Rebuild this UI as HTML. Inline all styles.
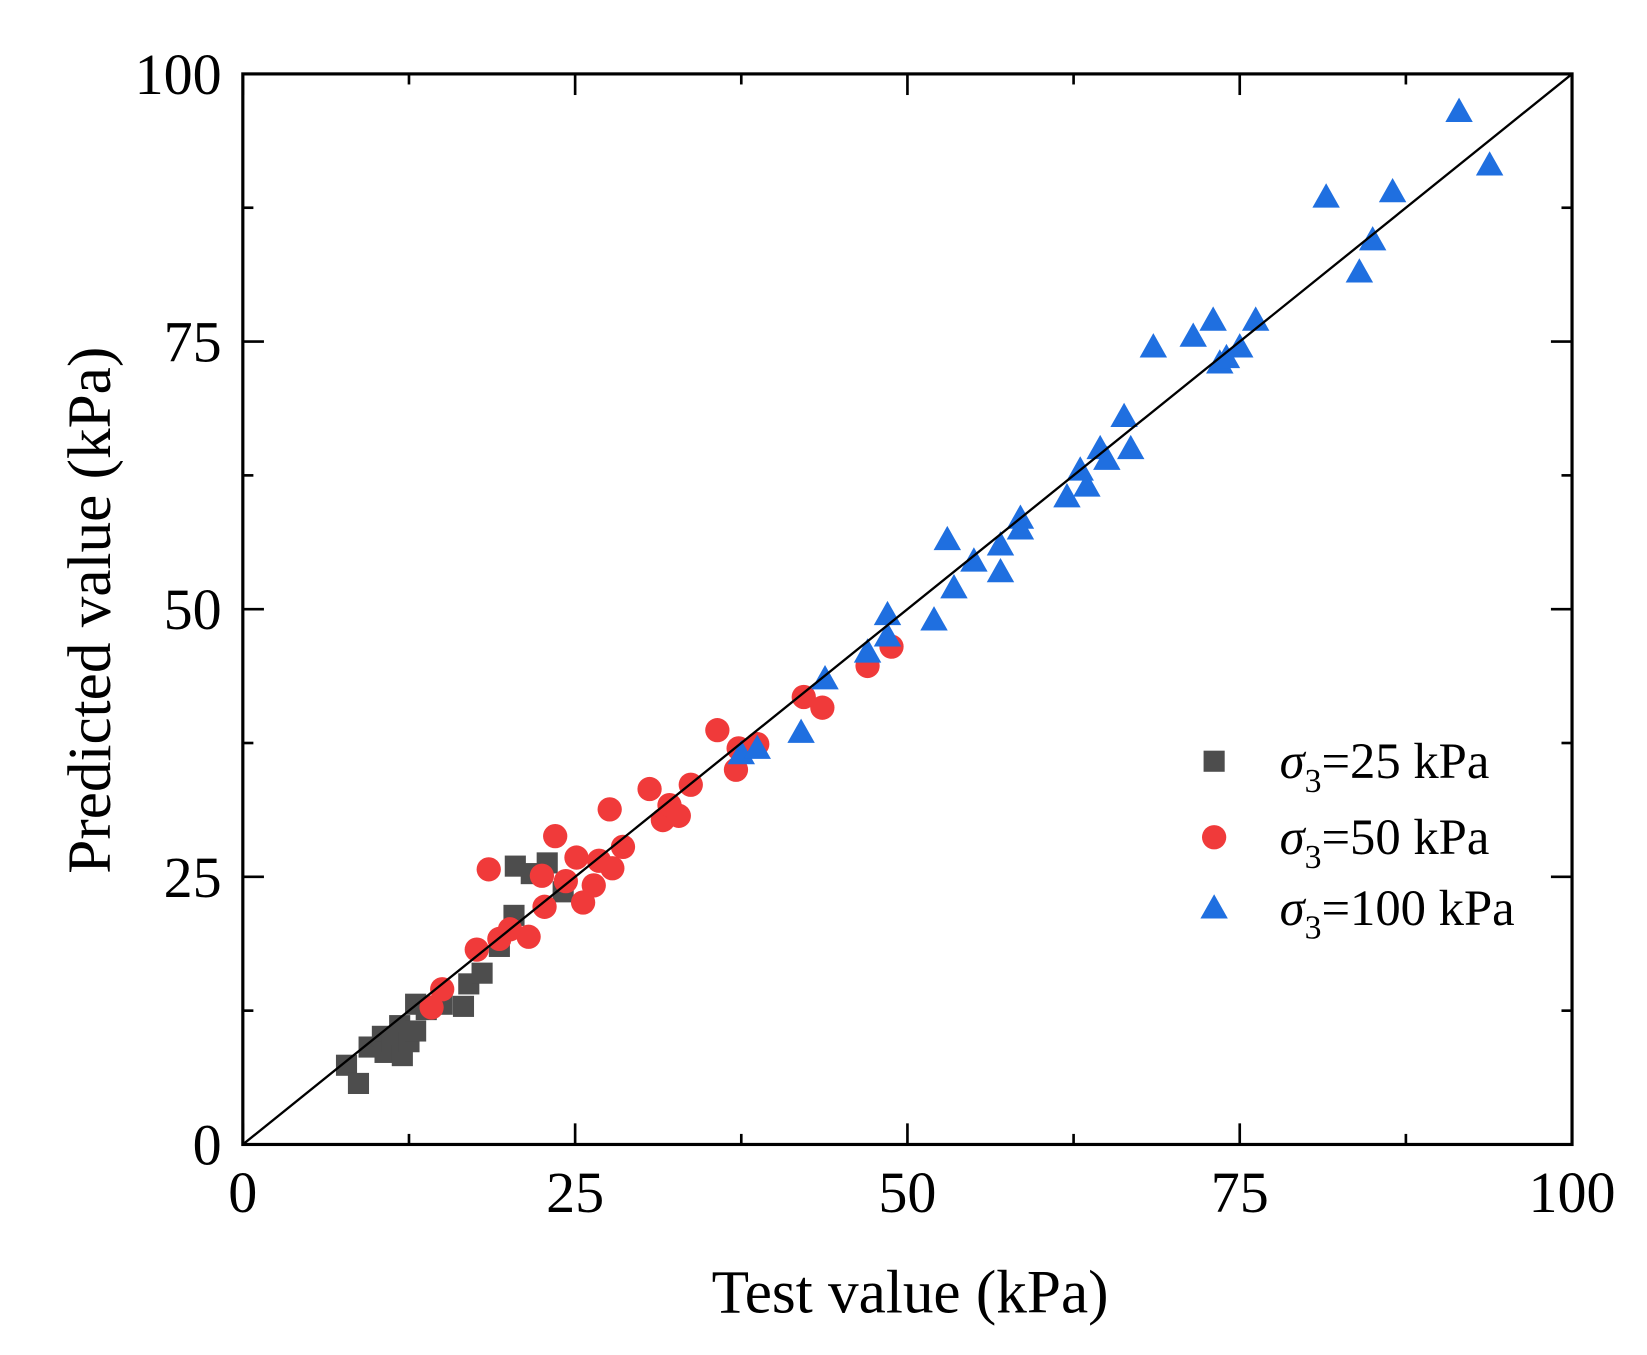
<!DOCTYPE html>
<html><head><meta charset="utf-8"><style>
html,body{margin:0;padding:0;background:#fff;}
svg{display:block;font-family:"Liberation Serif",serif;}
</style></head><body>
<svg id="chart" width="1647" height="1355" viewBox="0 0 1560 1283.4" xmlns="http://www.w3.org/2000/svg">
<g id="plot"></g>
</svg>
<script>
const xTicks=[0,25,50,75,100];
const yTicks=[0,25,50,75,100];
const s25x=[7.8,8.7,9.5,10.5,10.7,11.2,11.8,12,12.5,13,13,13.8,15,16.6,17,18,19.3,20.4,20.5,21.7,22.9,24.1];
const s25y=[7.4,5.7,9.1,10.1,8.6,9.6,11.1,8.3,9.6,13.1,10.6,12.6,13.1,12.9,15,16,18.5,21.4,26,25.3,26.3,23.6];
const s50x=[14.2,15,17.6,18.5,19.3,20.1,21.5,22.5,22.7,23.5,24.3,25.1,25.6,26.4,26.8,27.6,27.8,28.6,30.6,31.6,32.1,32.8,33.7,35.7,37.1,37.3,38.7,42.2,43.6,47,48.8];
const s50y=[12.8,14.5,18.2,25.7,19.2,20.1,19.4,25.1,22.2,28.8,24.6,26.8,22.6,24.2,26.5,31.3,25.8,27.8,33.2,30.3,31.7,30.7,33.6,38.7,35,37,37.4,41.8,40.8,44.7,46.5];
const s100x=[37.5,38.7,42,43.8,47,48.5,48.5,52,53,53.5,55,57,57,58.5,58.5,62,63,63.5,64.5,65,66.3,66.8,68.5,71.5,73,73.5,74,75,76.2,81.5,84,85,86.5,91.5,93.8];
const s100y=[36.5,37,38.5,43.5,46,47.5,49.5,49,56.5,52,54.5,56,53.5,58.5,57.5,60.5,63,61.5,65,64,68,65,74.5,75.5,77,73,73.5,74.5,77,88.5,81.5,84.5,89,96.5,91.5];
const legendLabels=["=25 kPa","=50 kPa","=100 kPa"];

const X0=230,X1=1489,Y0=1084,Y1=70;
const sx=v=>X0+(v/100)*(X1-X0);
const sy=v=>Y0-(v/100)*(Y0-Y1);
const NS="http://www.w3.org/2000/svg";
const g=document.getElementById('plot');
function mk(t,a,p){const e=document.createElementNS(NS,t);for(const k in a)e.setAttribute(k,a[k]);(p||g).appendChild(e);return e;}

function square(x,y,p){return mk('rect',{x:x-10,y:y-10,width:20,height:20,fill:'#4d4d4d'},p);}
function circle(x,y,p){return mk('circle',{cx:x,cy:y,r:11.5,fill:'#f03a3a'},p);}
function tri(x,y,p){return mk('polygon',{points:`${x},${y-13} ${x-13},${y+10} ${x+13},${y+10}`,fill:'#1f6fe0'},p);}

const gs=mk('g',{});
s25x.forEach((v,i)=>{const e=square(sx(v),sy(s25y[i]),gs);

});
const gc=mk('g',{});
s50x.forEach((v,i)=>{const e=circle(sx(v),sy(s50y[i]),gc);

});
const gt=mk('g',{});
s100x.forEach((v,i)=>{const e=tri(sx(v),sy(s100y[i]),gt);

});

const ln=mk('line',{x1:sx(0),y1:sy(0),x2:sx(100),y2:sy(100),stroke:'#000','stroke-width':2.2});



const fr=mk('rect',{x:X0,y:Y1,width:X1-X0,height:Y0-Y1,fill:'none',stroke:'#000','stroke-width':3});



for(let v=0;v<=100;v+=12.5){
  const major=(v%25===0);const L=major?20:10;
  const x=sx(v),y=sy(v);
  mk('line',{x1:x,y1:Y0,x2:x,y2:Y0-L,stroke:'#000','stroke-width':2.5});
  mk('line',{x1:x,y1:Y1,x2:x,y2:Y1+L,stroke:'#000','stroke-width':2.5});
  mk('line',{x1:X0,y1:y,x2:X0+L,y2:y,stroke:'#000','stroke-width':2.5});
  mk('line',{x1:X1,y1:y,x2:X1-L,y2:y,stroke:'#000','stroke-width':2.5});
}
xTicks.forEach(v=>{const t=mk('text',{x:sx(v),y:Y0+64,'text-anchor':'middle','font-size':55});t.textContent=v;

});
yTicks.forEach(v=>{const t=mk('text',{x:X0-20,y:sy(v)+19,'text-anchor':'end','font-size':55});t.textContent=v;

});

const xt=mk('text',{x:862,y:1243,'text-anchor':'middle','font-size':58});xt.textContent='Test value (kPa)';


const yt=mk('text',{x:0,y:0,'text-anchor':'middle','font-size':58,transform:`translate(104,578) rotate(-90)`});yt.textContent='Predicted value (kPa)';



const lg=mk('g',{});
const ly=[721,793,860];
const fns=[square,circle,tri];
ly.forEach((y,i)=>{
  fns[i](1150,y,lg);
  const t=mk('text',{x:1212,y:y+16,'font-size':48},lg);
  t.innerHTML=`<tspan font-style="italic">σ</tspan><tspan font-size="32" dy="13">3</tspan><tspan dy="-13">${legendLabels[i]}</tspan>`;
  
  
});
</script>
</body></html>
